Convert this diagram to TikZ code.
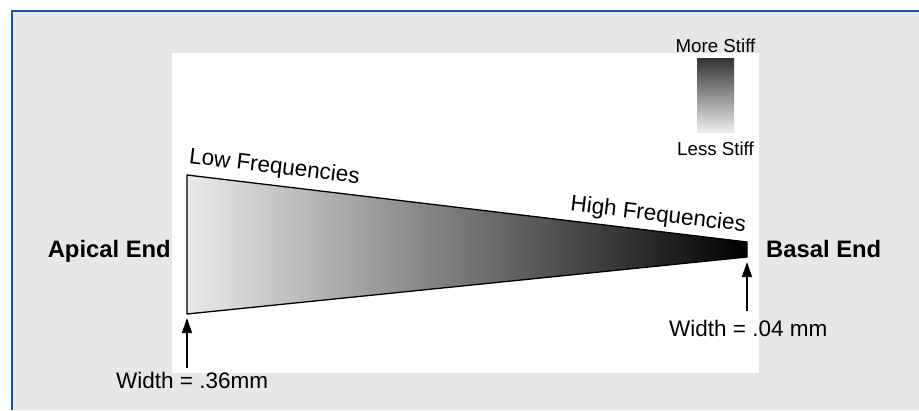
\documentclass[tikz,border=0pt]{standalone}
\usepackage{fontspec}
\setmainfont{Liberation Sans}
\usetikzlibrary{arrows.meta,positioning}

\definecolor{frameblue}{RGB}{25,85,155}
\definecolor{panelgray}{RGB}{230,231,232}

\tikzset{
  lbl/.style={inner sep=0pt, font=\fontsize{22.5}{26}\selectfont},
  endlbl/.style={inner sep=0pt, font=\fontsize{23.8}{27}\selectfont\bfseries},
  stifflbl/.style={inner sep=0pt, font=\fontsize{18.7}{22}\selectfont},
  uparrow/.style={-{Triangle[length=15pt,width=10pt]}, line width=1.4pt},
  stiffbar/.style={minimum width=37pt, minimum height=74pt, inner sep=0pt,
    top color=black!80, bottom color=black!7},
}

\begin{document}
\begin{tikzpicture}[x=1pt,y=-1pt]
        \useasboundingbox (0,0) rectangle (919,410);
        % panel
        \fill [panelgray] (12,11) rectangle (919,410);
        \draw [frameblue, line width=2.5pt] (12,410) -- (12,11) -- (919,11);
        \fill [white] (172,53) rectangle (759,373);
        % tapered membrane
        \coordinate (tl) at (187,175);
        \coordinate (bl) at (187,314);
        \coordinate (tr) at (747,242);
        \coordinate (br) at (747,257);
        \shade [left color=black!8, right color=black] (tl) -- (tr) -- (br) -- (bl) -- cycle;
        \draw [black, line width=1.3pt, line join=miter] (tl) -- (tr) -- (br) -- (bl) -- cycle;
        \path (tl) -- (tr)
          node [lbl, pos=0, sloped, anchor=south west, inner xsep=0pt, inner ysep=7pt] (low) {Low Frequencies}
          node [lbl, pos=1, sloped, anchor=south east, inner xsep=3pt, inner ysep=5pt] (high) {High Frequencies};
        % ends
        \node [endlbl, anchor=base east] (apical) at (171,257) {Apical End};
        \node [endlbl, anchor=base west] (basal) at (766,257) {Basal End};
        % widths
        \node [lbl, anchor=base west] (w36) at (116,388) {Width = .36mm};
        \node [lbl, anchor=base west] (w04) at (669,336) {Width = .04 mm};
        \draw [uparrow, shorten <=4pt, shorten >=4pt] (w36.north -| bl) -- (bl);
        \draw [uparrow, shorten <=9pt, shorten >=5pt] (w04.north -| br) -- (br);
        % stiffness key
        \node [stiffbar] (bar) at (715.5,95) {};
        \node [stifflbl, above=5pt of bar] (more) {More Stiff};
        \node [stifflbl, below=10pt of bar] (less) {Less Stiff};
\end{tikzpicture}
\end{document}
